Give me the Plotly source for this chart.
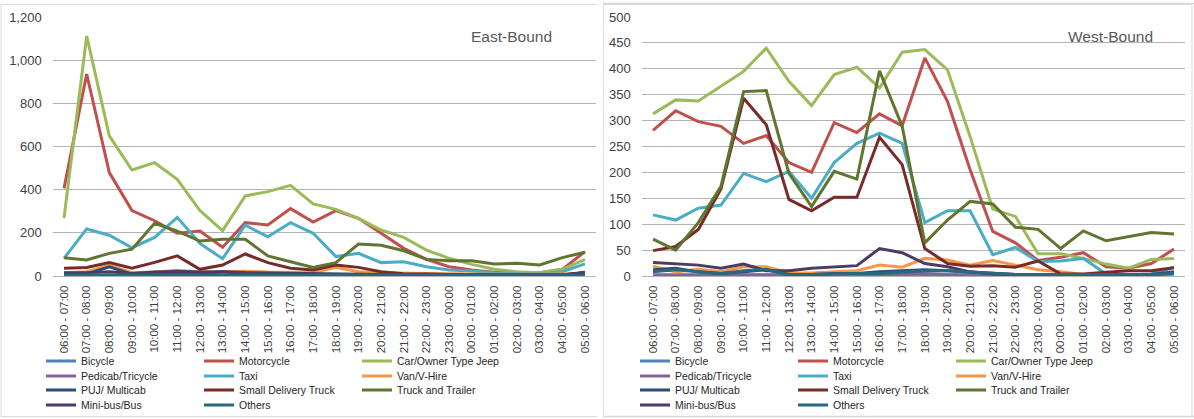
import plotly.graph_objects as go

# Hourly counting periods (x-axis categories)
periods = [
    "06:00 - 07:00", "07:00 - 08:00", "08:00 - 09:00", "09:00 - 10:00",
    "10:00 - 11:00", "11:00 - 12:00", "12:00 - 13:00", "13:00 - 14:00",
    "14:00 - 15:00", "15:00 - 16:00", "16:00 - 17:00", "17:00 - 18:00",
    "18:00 - 19:00", "19:00 - 20:00", "20:00 - 21:00", "21:00 - 22:00",
    "22:00 - 23:00", "23:00 - 00:00", "00:00 - 01:00", "01:00 - 02:00",
    "02:00 - 03:00", "03:00 - 04:00", "04:00 - 05:00", "05:00 - 06:00",
]

vehicle_types = [
    "Bicycle", "Motorcycle", "Car/Owner Type Jeep", "Pedicab/Tricycle",
    "Taxi", "Van/V-Hire", "PUJ/ Multicab", "Small Delivery Truck",
    "Truck and Trailer", "Mini-bus/Bus", "Others",
]

colors = [
    "#4F81BD", "#C0504D", "#9BBB59", "#8064A2", "#4BACC6", "#F79646",
    "#2C4D75", "#772C2A", "#5F7530", "#4D3B62", "#276A7C",
]

# ---- East-Bound volumes ----
east_bicycle = [3, 3, 5, 3, 3, 4, 3, 3, 3, 3, 3, 3, 3, 3, 2, 2, 2, 2, 2, 2, 2, 2, 2, 2]
east_motorcycle = [406, 936, 479, 303, 256, 198, 208, 133, 247, 236, 312, 250,
                   303, 267, 198, 128, 77, 43, 28, 17, 15, 15, 31, 113]
east_car = [269, 1112, 649, 491, 525, 448, 303, 210, 371, 391, 420, 334,
            309, 267, 213, 179, 120, 82, 54, 31, 20, 15, 31, 77]
east_pedicab = [2, 2, 3, 2, 2, 3, 2, 2, 2, 2, 2, 2, 2, 2, 2, 2, 2, 2, 2, 2, 2, 2, 2, 2]
east_taxi = [82, 218, 189, 131, 179, 272, 151, 80, 235, 182, 247, 198,
             90, 105, 62, 66, 43, 28, 23, 15, 11, 11, 20, 56]
east_van = [15, 20, 50, 15, 18, 25, 18, 20, 22, 18, 15, 15,
            40, 20, 15, 15, 12, 10, 8, 8, 8, 8, 8, 10]
east_puj = [10, 10, 42, 8, 10, 12, 10, 20, 10, 8, 8, 8,
            8, 8, 6, 5, 5, 5, 5, 5, 5, 5, 5, 15]
east_small_truck = [36, 39, 62, 36, 63, 93, 31, 51, 102, 62, 36, 28,
                    51, 40, 20, 11, 9, 6, 5, 5, 5, 5, 5, 15]
east_truck_trailer = [85, 74, 105, 124, 244, 208, 162, 170, 170, 93, 66, 40,
                      62, 148, 142, 117, 77, 71, 71, 56, 59, 51, 85, 110]
east_minibus = [15, 15, 20, 12, 18, 22, 18, 20, 16, 14, 12, 10,
                10, 8, 6, 5, 5, 5, 5, 5, 5, 5, 5, 17]
east_others = [5, 5, 8, 5, 5, 6, 5, 8, 5, 5, 5, 5, 5, 5, 5, 5, 5, 5, 5, 5, 5, 5, 5, 5]

# ---- West-Bound volumes ----
west_bicycle = [2, 2, 2, 2, 2, 3, 2, 2, 2, 2, 2, 3, 3, 2, 2, 2, 2, 2, 2, 2, 2, 2, 2, 2]
west_motorcycle = [281, 319, 298, 289, 256, 271, 219, 200, 296, 277, 313, 290,
                   421, 337, 205, 86, 64, 30, 36, 45, 18, 15, 24, 52]
west_car = [313, 340, 338, 367, 395, 440, 376, 329, 389, 403, 363, 432,
            437, 398, 269, 129, 115, 43, 43, 34, 23, 15, 32, 34]
west_pedicab = [2, 2, 2, 2, 3, 3, 2, 2, 2, 2, 3, 5, 5, 3, 2, 2, 2, 2, 2, 2, 2, 2, 2, 2]
west_taxi = [118, 108, 131, 137, 198, 182, 202, 150, 219, 256, 276, 256,
             103, 126, 126, 41, 55, 28, 29, 34, 4, 2, 4, 17]
west_van = [19, 8, 13, 8, 18, 18, 6, 6, 8, 10, 21, 17,
            34, 31, 21, 30, 21, 12, 8, 3, 2, 2, 2, 2]
west_puj = [12, 15, 8, 5, 8, 12, 3, 3, 5, 5, 8, 10,
            12, 10, 8, 5, 3, 3, 3, 3, 3, 3, 3, 8]
west_small_truck = [49, 57, 90, 168, 343, 292, 148, 126, 152, 152, 268, 215,
                    53, 24, 19, 20, 17, 29, 4, 4, 7, 10, 10, 16]
west_truck_trailer = [71, 50, 103, 173, 356, 358, 198, 134, 202, 187, 396, 289,
                      64, 108, 144, 139, 94, 90, 53, 87, 68, 76, 84, 81]
west_minibus = [26, 23, 21, 15, 23, 10, 10, 15, 17, 20, 53, 45,
                24, 18, 8, 4, 3, 3, 3, 3, 3, 3, 3, 5]
west_others = [8, 12, 8, 5, 10, 13, 2, 3, 5, 5, 5, 8,
               10, 10, 8, 5, 3, 3, 3, 3, 3, 3, 3, 5]

east_series = [east_bicycle, east_motorcycle, east_car, east_pedicab, east_taxi,
               east_van, east_puj, east_small_truck, east_truck_trailer,
               east_minibus, east_others]
west_series = [west_bicycle, west_motorcycle, west_car, west_pedicab, west_taxi,
               west_van, west_puj, west_small_truck, west_truck_trailer,
               west_minibus, west_others]

FONT = "Liberation Sans, Arial, sans-serif"
W, H = 1194, 419

fig = go.Figure()

# one legend per row of three entries, per panel (legends 1-4 east, 5-8 west)
def legend_name(panel, idx):
    n = panel * 4 + idx // 3 + 1
    return "legend" if n == 1 else f"legend{n}"

for panel, (series, xa, ya) in enumerate([(east_series, "x", "y"), (west_series, "x2", "y2")]):
    for i, (name, vals) in enumerate(zip(vehicle_types, series)):
        fig.add_trace(go.Scatter(
            x=periods, y=vals, name=name, mode="lines",
            line=dict(color=colors[i], width=3),
            xaxis=xa, yaxis=ya, legend=legend_name(panel, i),
            hovertemplate="%{x}: %{y}<extra>" + name + "</extra>",
        ))

row_y = [361, 376, 390, 405]
legend_left = [41, 635]
legends = {}
for panel in range(2):
    for r in range(4):
        n = panel * 4 + r + 1
        key = "legend" if n == 1 else f"legend{n}"
        legends[key] = dict(
            orientation="h", x=legend_left[panel] / W, xanchor="left",
            y=1 - row_y[r] / H, yanchor="middle",
            entrywidth=113, entrywidthmode="pixels",
            font=dict(family=FONT, size=10.5, color="#262626"),
            bgcolor="rgba(0,0,0,0)", borderwidth=0,
            itemclick=False, itemdoubleclick=False,
        )

axis_common = dict(
    tickfont=dict(family=FONT, size=13, color="#404040"),
)
x_common = dict(
    type="category", range=[-0.5, 23.5], tickangle=-90,
    showgrid=False, showline=True, linecolor="#B3B3B3", linewidth=1,
    ticks="", ticklabelstandoff=4,
    tickfont=dict(family=FONT, size=11.5, color="#404040"),
)
y_top, y_bot = 17, 276
ydom = [1 - y_bot / H, 1 - y_top / H]

fig.update_layout(
    width=W, height=H,
    margin=dict(l=0, r=0, t=0, b=0, autoexpand=False),
    paper_bgcolor="white", plot_bgcolor="white",
    font=dict(family=FONT, color="#404040"),
    showlegend=True,
    xaxis=dict(domain=[52.7 / W, 596.3 / W], anchor="y", **x_common),
    xaxis2=dict(domain=[641.7 / W, 1185.3 / W], anchor="y2", **x_common),
    yaxis=dict(domain=ydom, anchor="x", range=[0, 1200], dtick=200,
               tickformat=",", showgrid=True, gridcolor="#B3B3B3", gridwidth=1,
               zeroline=False, ticklabelstandoff=10, **axis_common),
    yaxis2=dict(domain=ydom, anchor="x2", range=[0, 500], dtick=50,
                showgrid=True, gridcolor="#B3B3B3", gridwidth=1,
                zeroline=False, ticklabelstandoff=10, **axis_common),
    **legends,
)

# panel frames
fig.add_shape(type="rect", xref="paper", yref="paper",
              x0=1 / W, x1=1 - 2 / W, y0=1 - 416.5 / H, y1=1 - 4.5 / H,
              line=dict(color="#D9D9D9", width=1), layer="below")
fig.add_shape(type="rect", xref="paper", yref="paper",
              x0=603 / W, x1=1 + 5 / W, y0=1 - 416.5 / H, y1=1 - 3.5 / H,
              line=dict(color="#D9D9D9", width=1.5), layer="below")
fig.add_shape(type="rect", xref="paper", yref="paper",
              x0=597 / W, x1=603 / W, y0=0, y1=1,
              fillcolor="white", line=dict(width=0), layer="below")

# panel titles
fig.add_annotation(text="East-Bound", xref="paper", yref="paper",
                   x=469 / W, y=1 - 37 / H, xanchor="left", yanchor="middle",
                   showarrow=False, font=dict(family=FONT, size=15.5, color="#595959"))
fig.add_annotation(text="West-Bound", xref="paper", yref="paper",
                   x=1066 / W, y=1 - 36 / H, xanchor="left", yanchor="middle",
                   showarrow=False, font=dict(family=FONT, size=15.5, color="#595959"))

fig.write_html("out.html")
